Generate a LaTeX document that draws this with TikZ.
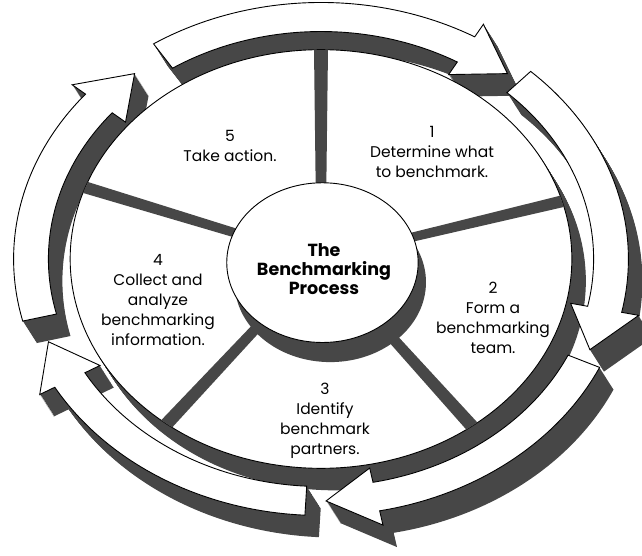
\documentclass[tikz,border=0pt]{standalone}
\usepackage{fontspec}
\setmainfont{Poppins}

\tikzset{
  rimdark/.style={fill=black!72},
  faceline/.style={draw=black, line width=0.9pt, fill=white},
  steplabel/.style={align=center, inner sep=0pt, font=\fontsize{15.5}{20}\selectfont},
  hublabel/.style={align=center, inner sep=0pt, font=\bfseries\fontsize{17.5}{19}\selectfont},
}

% one curved arrow of the cycle: #1 tail angle, #2 tip angle (clockwise)
\newcommand{\cyclearrow}[2]{(#1:106) arc[start angle=#1, end angle={#2+10}, radius=106]
  -- ({#2+10}:112) -- (#2:100) -- ({#2+10}:88) -- ({#2+10}:94)
  arc[start angle={#2+10}, end angle=#1, radius=94] -- cycle}

\begin{document}
\begin{tikzpicture}[x=1pt,y=1pt]
\useasboundingbox (0,0) rectangle (642,555);

% dark sides of the disc and the arrows
\foreach \k in {1,...,22} {
  \begin{scope}[shift={({321+\k*14/22},{296-\k})}, xscale=2.9, yscale=2.42]
    \fill[rimdark] (0,0) circle (86.5);
    \foreach \from/\to in {123/50, 47/-22, -25/-89, -93/-160, -166/-230}
      \fill[rimdark] \cyclearrow{\from}{\to};
  \end{scope}
}

\begin{scope}[shift={(321,296)}, xscale=2.9, yscale=2.42]
  \draw[faceline] (0,0) circle (86.5);
  % spokes
  \foreach \a in {90,16,-53,-128,160}
    \fill[rimdark] ({\a-3.5}:30) -- ({\a+3.5}:30) -- ({\a+1.6}:86.5) -- ({\a-1.6}:86.5) -- cycle;
  % hub
  \fill[rimdark] (3.2,-9.6) circle (33);
  \draw[faceline] (0.5,-1.5) circle (33);
  % arrows
  \foreach \from/\to in {123/50, 47/-22, -25/-89, -93/-160, -166/-230}
    \draw[faceline] \cyclearrow{\from}{\to};
\end{scope}

\node[hublabel] (hub) at (324,286) {The\\Benchmarking\\Process};
\node[steplabel] (s1) at (432,403) {1\\Determine what\\to benchmark.};
\node[steplabel] (s2) at (493,237) {2\\Form a\\benchmarking\\team.};
\node[steplabel] (s3) at (325,134) {3\\Identify\\benchmark\\partners.};
\node[steplabel] (s4) at (158,255) {4\\Collect and\\analyze\\benchmarking\\information.};
\node[steplabel] (s5) at (230,409) {5\\Take action.};

\end{tikzpicture}
\end{document}
